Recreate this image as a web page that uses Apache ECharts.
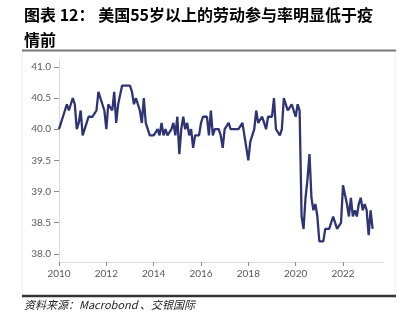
<!DOCTYPE html>
<html>
<head>
<meta charset="utf-8">
<script src="https://cdn.jsdelivr.net/npm/echarts@6/dist/echarts.min.js"></script>
<style>
html,body{margin:0;padding:0;background:#fff;}
#chart{width:406px;height:328px;}
</style>
</head>
<body>
<div id="chart"></div>
<script>
// Title and source
var titleText = "图表 12： 美国55岁以上的劳动参与率明显低于疫\n情前";
var sourceText = "资料来源：Macrobond 、交银国际";

// Monthly series starting Jan 2010
var startYear = 2010;
var values2010 = [40.0, 40.1, 40.2, 40.3, 40.4, 40.3, 40.4, 40.5, 40.4, 40.0, 40.1, 40.3];
var values2011 = [39.9, 40.0, 40.0, 40.2, 40.2, 40.2, 40.2, 40.3, 40.6, 40.6, 40.4, 40.3];
var values2012 = [40.0, 40.4, 40.4, 40.3, 40.6, 40.1, 40.4, 40.4, 40.7, 40.7, 40.7, 40.7];
var values2013 = [40.7, 40.6, 40.4, 40.5, 40.5, 40.3, 40.1, 40.5, 40.1, 40.1, 39.9, 39.9];
var values2014 = [39.9, 39.9, 40.0, 39.9, 40.1, 39.9, 40.0, 39.9, 39.9, 40.0, 40.1, 39.9];
var values2015 = [40.2, 39.6, 40.0, 40.2, 40.0, 40.1, 39.9, 40.0, 39.7, 39.9, 39.9, 39.9];
var values2016 = [40.1, 40.2, 40.2, 40.2, 39.9, 40.3, 39.9, 40.0, 40.0, 40.0, 39.9, 39.7];
var values2017 = [40.0, 40.0, 40.1, 40.0, 40.0, 40.0, 40.0, 40.0, 40.0, 40.1, 39.9, 39.9];
var values2018 = [39.5, 39.8, 39.8, 40.0, 40.3, 40.1, 40.1, 40.2, 40.1, 40.0, 40.2, 40.2];
var values2019 = [40.2, 40.5, 40.0, 40.0, 39.9, 40.0, 40.5, 40.4, 40.3, 40.3, 40.4, 40.3];
var values2020 = [40.2, 40.4, 40.3, 38.6, 38.4, 38.9, 39.2, 39.6, 38.9, 38.7, 38.8, 38.6];
var values2021 = [38.2, 38.2, 38.2, 38.4, 38.4, 38.4, 38.4, 38.6, 38.6, 38.4, 38.4, 38.5];
var values2022 = [39.1, 39.1, 38.8, 38.6, 38.9, 38.6, 38.7, 38.6, 38.8, 38.9, 38.7, 38.8];
var values2023 = [38.7, 38.3, 38.7, 38.4];

var xTickLabels = [2010, 2012, 2014, 2016, 2018, 2020, 2022];
var yTickLabels = [38.0, 38.5, 39.0, 39.5, 40.0, 40.5, 41.0];

var allValues = [].concat(values2010, values2011, values2012, values2013, values2014,
  values2015, values2016, values2017, values2018, values2019, values2020, values2021,
  values2022, values2023);
var seriesData = allValues.map(function (v, i) { return [startYear + i / 12, v]; });

var chart = echarts.init(document.getElementById('chart'), null, {renderer: 'canvas'});
var labelColor = '#595959';
var axisColor = '#d9d9d9';
chart.setOption({
  animation: false,
  backgroundColor: '#fff',
  title: {
    text: titleText,
    left: 24,
    top: 2,
    padding: 0,
    textStyle: {
      fontFamily: '"Noto Sans CJK SC", sans-serif',
      fontSize: 16,
      fontWeight: 'bold',
      color: '#000',
      lineHeight: 25
    }
  },
  graphic: [
    {type: 'rect', shape: {x: 22, y: 51, width: 373, height: 245}, style: {fill: 'none', stroke: '#efefef', lineWidth: 1}, silent: true},
    {type: 'line', shape: {x1: 22, y1: 50.5, x2: 396, y2: 50.5}, style: {stroke: '#7a7a7a', lineWidth: 2}, silent: true},
    {type: 'line', shape: {x1: 22, y1: 296, x2: 396, y2: 296}, style: {stroke: '#333', lineWidth: 2.5}, silent: true},
    {type: 'text', left: 24, top: 299, style: {text: sourceText, fontFamily: '"Noto Sans CJK SC", sans-serif', fontSize: 11, fontStyle: 'italic', fill: '#222'}, silent: true}
  ],
  grid: {left: 59, right: 23, top: 60, bottom: 66, containLabel: false},
  xAxis: {
    type: 'value',
    min: 2010,
    max: 2023.69,
    axisLine: {show: true, lineStyle: {color: axisColor, width: 1}},
    axisTick: {show: true, customValues: xTickLabels, length: 4, lineStyle: {color: '#8c8c8c'}},
    axisLabel: {customValues: xTickLabels, color: labelColor, fontFamily: 'Lato, sans-serif', fontSize: 10, margin: 7,
      formatter: function (v) { return String(Math.round(v)); }},
    splitLine: {show: false}
  },
  yAxis: {
    type: 'value',
    min: 37.87,
    max: 41.11,
    axisLine: {show: true, lineStyle: {color: axisColor, width: 1}},
    axisTick: {show: true, customValues: yTickLabels, length: 5, inside: false, lineStyle: {color: '#8c8c8c'}},
    axisLabel: {customValues: yTickLabels, color: labelColor, fontFamily: 'Lato, sans-serif', fontSize: 10, margin: 8,
      formatter: function (v) { return v.toFixed(1); }},
    splitLine: {show: false}
  },
  series: [{
    type: 'line',
    data: seriesData,
    showSymbol: false,
    lineStyle: {color: '#2e3572', width: 2.3},
    itemStyle: {color: '#2e3572'}
  }]
});
</script>
</body>
</html>
